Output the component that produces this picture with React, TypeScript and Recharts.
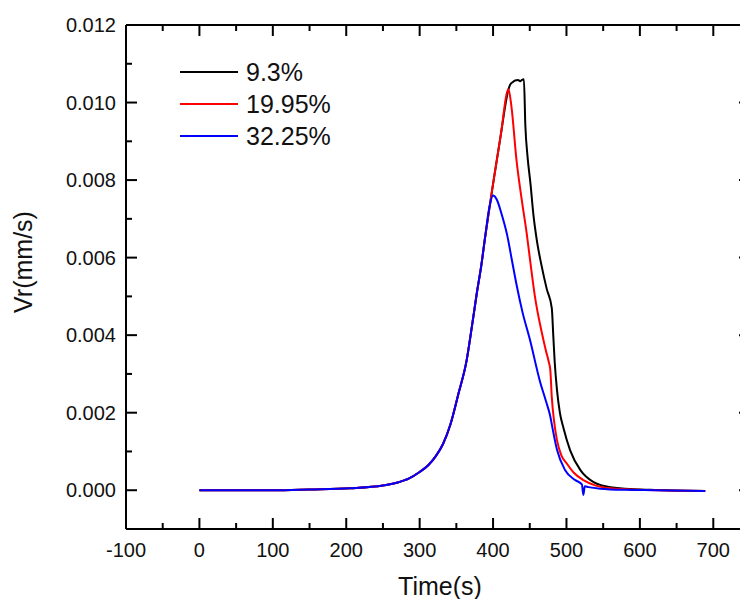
import React from 'react';
import { LineChart, Line, XAxis, YAxis, Label } from 'recharts';

const seriesNames = ['9.3%', '19.95%', '32.25%'];
const seriesColors = ['#000000', '#ff0000', '#0000ff'];

const blackX = [0, 50, 100, 150, 205, 250, 270, 285, 300, 312, 322, 332, 342, 353, 364, 371, 378, 384, 389, 396, 400, 410, 421, 423, 427, 430, 434, 437, 439, 442, 444, 447, 451, 455, 460, 466, 473, 480, 482, 484, 487, 491, 496, 505, 519, 537, 560, 614, 689];
const blackY = [0, 0, 0, 0.00002, 0.00005, 0.00012, 0.0002, 0.0003, 0.00047, 0.00065, 0.00088, 0.0012, 0.0017, 0.0025, 0.00335, 0.0042, 0.0051, 0.0058, 0.0065, 0.0074, 0.0079, 0.0091, 0.01034, 0.01045, 0.01053, 0.01057, 0.01058, 0.01055, 0.01058, 0.0106, 0.0094, 0.0086, 0.0079, 0.0071, 0.0064, 0.0058, 0.0052, 0.0047, 0.004, 0.0033, 0.0026, 0.002, 0.0016, 0.00103, 0.00052, 0.00021, 0.00008, 0.00001, -0.00002];

const redX = [0, 50, 100, 150, 205, 250, 270, 285, 300, 312, 322, 332, 342, 353, 364, 371, 378, 384, 389, 396, 400, 410, 421, 425, 432, 439, 446, 452, 457, 466, 472, 476, 478, 480, 483, 487, 493, 500, 510, 523, 540, 560, 600, 689];
const redY = [0, 0, 0, 0.00002, 0.00005, 0.00012, 0.0002, 0.0003, 0.00047, 0.00065, 0.00088, 0.0012, 0.0017, 0.0025, 0.00335, 0.0042, 0.0051, 0.0058, 0.0065, 0.0074, 0.0079, 0.0091, 0.01034, 0.0099, 0.0085, 0.0075, 0.0066, 0.0057, 0.005, 0.0041, 0.0036, 0.0033, 0.0031, 0.0024, 0.0018, 0.0013, 0.0009, 0.0007, 0.00045, 0.00026, 0.00012, 0.00005, 0.00001, -0.00002];

const blueX = [0, 50, 100, 150, 205, 250, 270, 285, 300, 312, 322, 332, 342, 353, 364, 371, 378, 384, 389, 395, 400, 405, 412, 419, 426, 432, 440, 450, 464, 472, 478, 480, 487, 498, 512, 521, 523, 525, 530, 546, 580, 620, 689];
const blueY = [0, 0, 0, 0.00002, 0.00005, 0.00012, 0.0002, 0.0003, 0.00047, 0.00065, 0.00088, 0.0012, 0.0017, 0.0025, 0.00335, 0.0042, 0.0051, 0.0058, 0.0065, 0.0073, 0.0076, 0.0075, 0.0071, 0.0066, 0.0059, 0.0053, 0.0046, 0.0039, 0.0028, 0.0023, 0.0019, 0.0017, 0.00105, 0.00052, 0.00026, 0.00015, -0.00012, 0.0001, 0.00008, 0.00004, 0.00001, 0, -0.00002];

const xTicks = [-100, -50, 0, 50, 100, 150, 200, 250, 300, 350, 400, 450, 500, 550, 600, 650, 700];
const yTicks = [0, 0.001, 0.002, 0.003, 0.004, 0.005, 0.006, 0.007, 0.008, 0.009, 0.01, 0.011, 0.012];
const xDomain = [-100, 750];
const yDomain = [-0.001, 0.012];

const toPoints = (xs: number[], ys: number[]) => xs.map((x, i) => ({ x, y: ys[i] }));
const seriesData = [toPoints(blackX, blackY), toPoints(redX, redY), toPoints(blueX, blueY)];

const FONT = '"Liberation Sans", Arial, Helvetica, sans-serif';

const isMajorX = (v: number) => Math.round(v) % 100 === 0;
const isMajorY = (v: number) => Math.round(v * 1000) % 2 === 0;

const BottomTick = (props: any) => {
  const { x, y, payload } = props;
  const major = isMajorX(payload.value);
  return (
    <g>
      <line x1={x} y1={y} x2={x} y2={y - (major ? 11 : 6)} stroke="#000" strokeWidth={2} />
      {major && (
        <text x={x} y={y + 28} textAnchor="middle" fontSize={20} fontFamily={FONT} fill="#111">
          {payload.value}
        </text>
      )}
    </g>
  );
};

const TopTick = (props: any) => {
  const { x, y, payload } = props;
  const major = isMajorX(payload.value);
  return <line x1={x} y1={y} x2={x} y2={y + (major ? 11 : 6)} stroke="#000" strokeWidth={2} />;
};

const LeftTick = (props: any) => {
  const { x, y, payload } = props;
  const major = isMajorY(payload.value);
  return (
    <g>
      <line x1={x} y1={y} x2={x + (major ? 11 : 6)} y2={y} stroke="#000" strokeWidth={2} />
      {major && (
        <text x={x - 10} y={y + 7} textAnchor="end" fontSize={20} fontFamily={FONT} fill="#111">
          {payload.value.toFixed(3)}
        </text>
      )}
    </g>
  );
};

const RightTick = (props: any) => {
  const { x, y, payload } = props;
  const major = isMajorY(payload.value);
  return <line x1={x} y1={y} x2={x - (major ? 11 : 6)} y2={y} stroke="#000" strokeWidth={2} />;
};

const LegendBox = () => (
  <div style={{ position: 'absolute', left: 180, top: 56, fontFamily: FONT }}>
    {seriesNames.map((n, i) => (
      <div key={n} style={{ display: 'flex', alignItems: 'center', height: 32 }}>
        <div style={{ width: 58, height: 2, background: seriesColors[i], marginRight: 8 }} />
        <span style={{ fontSize: 25, color: '#111', lineHeight: '32px' }}>{n}</span>
      </div>
    ))}
  </div>
);

const axisLineStyle = { stroke: '#000', strokeWidth: 2 };

export default function App() {
  return (
    <div style={{ position: 'absolute', left: 0, top: 0, width: 740, height: 599, overflow: 'hidden', background: '#fff' }}>
      <div style={{ position: 'relative', width: 760, height: 599 }}>
        <LineChart width={760} height={599} margin={{ top: 24, right: 9, bottom: 4, left: 66 }}>
          <XAxis
            xAxisId="bottom"
            type="number"
            dataKey="x"
            orientation="bottom"
            domain={xDomain}
            ticks={xTicks}
            interval={0}
            allowDataOverflow
            height={66}
            tickSize={0}
            tickMargin={0}
            tickLine={false}
            axisLine={axisLineStyle}
            tick={<BottomTick />}
          >
            <Label
              content={() => (
                <text x={440} y={595} textAnchor="middle" fontSize={25} fontFamily={FONT} fill="#111">
                  Time(s)
                </text>
              )}
            />
          </XAxis>
          <XAxis
            xAxisId="top"
            type="number"
            dataKey="x"
            orientation="top"
            domain={xDomain}
            ticks={xTicks}
            interval={0}
            allowDataOverflow
            height={1}
            tickSize={0}
            tickMargin={0}
            tickLine={false}
            axisLine={axisLineStyle}
            tick={<TopTick />}
          />
          <YAxis
            yAxisId="left"
            type="number"
            orientation="left"
            domain={yDomain}
            ticks={yTicks}
            interval={0}
            allowDataOverflow
            width={60}
            tickSize={0}
            tickMargin={0}
            tickLine={false}
            axisLine={axisLineStyle}
            tick={<LeftTick />}
          >
            <Label
              content={() => (
                <text
                  x={32}
                  y={262}
                  transform="rotate(-90 32 262)"
                  textAnchor="middle"
                  fontSize={25}
                  fontFamily={FONT}
                  fill="#111"
                >
                  Vr(mm/s)
                </text>
              )}
            />
          </YAxis>
          <YAxis
            yAxisId="right"
            type="number"
            orientation="right"
            domain={yDomain}
            ticks={yTicks}
            interval={0}
            allowDataOverflow
            width={1}
            tickSize={0}
            tickMargin={0}
            tickLine={false}
            axisLine={axisLineStyle}
            tick={<RightTick />}
          />
          {seriesData.map((d, i) => (
            <Line
              key={seriesNames[i]}
              name={seriesNames[i]}
              data={d}
              dataKey="y"
              xAxisId="bottom"
              yAxisId="left"
              type="monotone"
              stroke={seriesColors[i]}
              strokeWidth={2}
              dot={false}
              activeDot={false}
              isAnimationActive={false}
            />
          ))}
        </LineChart>
        <LegendBox />
      </div>
    </div>
  );
}
